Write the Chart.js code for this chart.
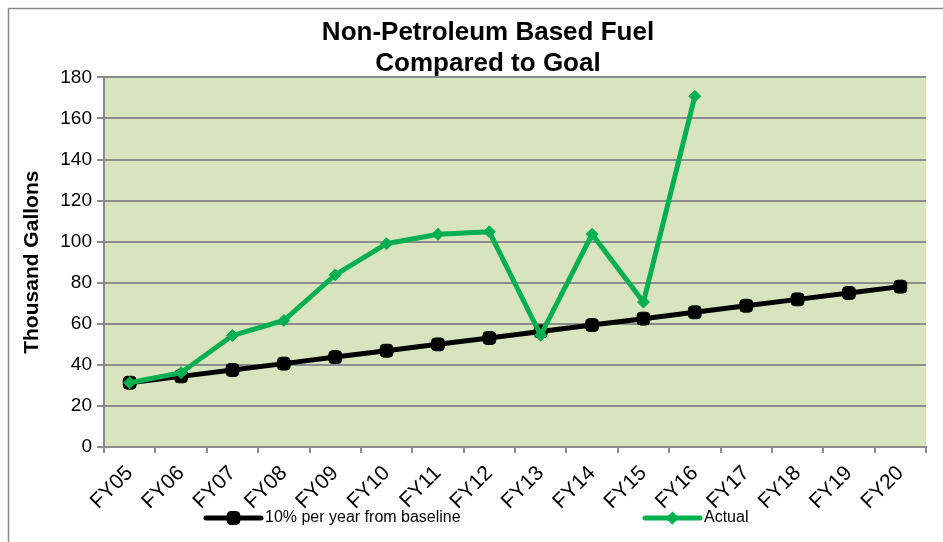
<!DOCTYPE html>
<html>
<head>
<meta charset="utf-8">
<title>Non-Petroleum Based Fuel Compared to Goal</title>
<script src="https://cdn.jsdelivr.net/npm/chart.js@4.4.1/dist/chart.umd.min.js"></script>
<style>
    html, body { margin: 0; padding: 0; background: #fff; }
    #wrap { width: 943px; height: 542px; }
</style>
</head>
<body>
<div id="wrap"><canvas id="fuelChart" width="943" height="542"></canvas></div>
<script>
// values (thousand gallons)
const fiscalYears = ['FY05', 'FY06', 'FY07', 'FY08', 'FY09', 'FY10', 'FY11', 'FY12',
    'FY13', 'FY14', 'FY15', 'FY16', 'FY17', 'FY18', 'FY19', 'FY20'];
const goalValues = [31.3, 34.4, 37.5, 40.6, 43.8, 46.9, 50.0, 53.1,
    56.3, 59.4, 62.5, 65.6, 68.8, 71.9, 75.0, 78.1];
const actualValues = [31.3, 36.2, 54.3, 61.6, 83.8, 99.0, 103.6, 104.8,
    54.4, 103.6, 70.6, 170.8];
const seriesNames = ['10% per year from baseline', 'Actual'];
const yMin = 0;
const yMax = 180;
const yStep = 20;

const FONT = '"Liberation Sans", Arial, sans-serif';
const plotBg = '#D7E4BD';
const gridGrey = '#8c8c8c';

// white page, grey frame, green plot area
const backdrop = {
    id: 'backdrop',
    beforeDraw(chart) {
        const { ctx, chartArea } = chart;
        ctx.save();
        ctx.fillStyle = '#fff';
        ctx.fillRect(0, 0, chart.width, chart.height);
        ctx.strokeStyle = '#8a8a8a';
        ctx.lineWidth = 1.5;
        ctx.strokeRect(8.5, 8.5, chart.width + 20, chart.height + 20);
        ctx.fillStyle = plotBg;
        ctx.fillRect(chartArea.left, chartArea.top,
            chartArea.right - chartArea.left, chartArea.bottom - chartArea.top);
        ctx.restore();
    }
};

// legend like the excel one: line with marker, items spread out
const lineLegend = {
    id: 'lineLegend',
    afterDraw(chart, args, opts) {
        const ctx = chart.ctx;
        ctx.save();
        chart.data.datasets.forEach((ds, i) => {
            const x0 = opts.positions[i];
            const y = opts.y;
            ctx.strokeStyle = ds.borderColor;
            ctx.lineWidth = ds.borderWidth;
            ctx.lineCap = 'round';
            ctx.beginPath();
            ctx.moveTo(x0, y);
            ctx.lineTo(x0 + opts.lineLength, y);
            ctx.stroke();
            ctx.fillStyle = ds.pointBackgroundColor;
            ctx.strokeStyle = ds.pointBorderColor;
            ctx.lineWidth = 1;
            Chart.helpers.drawPoint(ctx, {
                pointStyle: ds.pointStyle,
                radius: ds.pointRadius,
                rotation: 0,
                borderWidth: 1
            }, x0 + opts.lineLength / 2, y);
            ctx.fillStyle = '#000';
            ctx.font = '16px ' + FONT;
            ctx.textAlign = 'left';
            ctx.textBaseline = 'middle';
            ctx.fillText(ds.label, x0 + opts.lineLength + 4, y);
        });
        ctx.restore();
    }
};

const ctx = document.getElementById('fuelChart').getContext('2d');

new Chart(ctx, {
    type: 'line',
    data: {
        labels: fiscalYears,
        datasets: [{
            label: seriesNames[0],
            data: goalValues,
            borderColor: '#000',
            backgroundColor: '#000',
            borderWidth: 5,
            pointStyle: 'rectRounded',
            pointRadius: 7.5,
            pointBackgroundColor: '#000',
            pointBorderColor: '#000',
            pointBorderWidth: 1,
            tension: 0,
            order: 2
        }, {
            label: seriesNames[1],
            data: actualValues,
            borderColor: '#00B050',
            backgroundColor: '#00B050',
            borderWidth: 5,
            pointStyle: 'rectRot',
            pointRadius: 6,
            pointBackgroundColor: '#00B050',
            pointBorderColor: '#00B050',
            pointBorderWidth: 1,
            tension: 0,
            order: 1
        }]
    },
    options: {
        responsive: false,
        animation: false,
        layout: { padding: { left: 50, right: 17, top: 0, bottom: 0 } },
        scales: {
            x: {
                offset: true,
                grid: {
                    offset: true,
                    drawOnChartArea: false,
                    color: gridGrey,
                    lineWidth: 2,
                    tickLength: 6
                },
                border: { color: gridGrey, width: 2 },
                ticks: {
                    color: '#000',
                    font: { family: FONT, size: 21 },
                    minRotation: 45,
                    maxRotation: 45,
                    padding: 8
                },
                afterFit(scale) { scale.height = 95; }
            },
            y: {
                min: yMin,
                max: yMax,
                grid: {
                    color: gridGrey,
                    lineWidth: 2,
                    tickLength: 7
                },
                border: { color: gridGrey, width: 2 },
                ticks: {
                    stepSize: yStep,
                    color: '#000',
                    font: { family: FONT, size: 19 },
                    padding: 5
                },
                title: {
                    display: true,
                    text: 'Thousand Gallons',
                    color: '#000',
                    font: { family: FONT, size: 21, weight: 'bold' },
                    padding: { top: -30, bottom: 0 }
                },
                afterFit(scale) { scale.width = 54; }
            }
        },
        plugins: {
            title: {
                display: true,
                text: ['Non-Petroleum Based Fuel', 'Compared to Goal'],
                color: '#000',
                font: { family: FONT, size: 26, weight: 'bold', lineHeight: 1.2 },
                padding: { top: 17, bottom: -2 }
            },
            legend: { display: false },
            tooltip: { enabled: false },
            lineLegend: {
                positions: [206, 645],
                lineLength: 55,
                y: 518
            }
        }
    },
    plugins: [backdrop, lineLegend]
});
</script>
</body>
</html>
